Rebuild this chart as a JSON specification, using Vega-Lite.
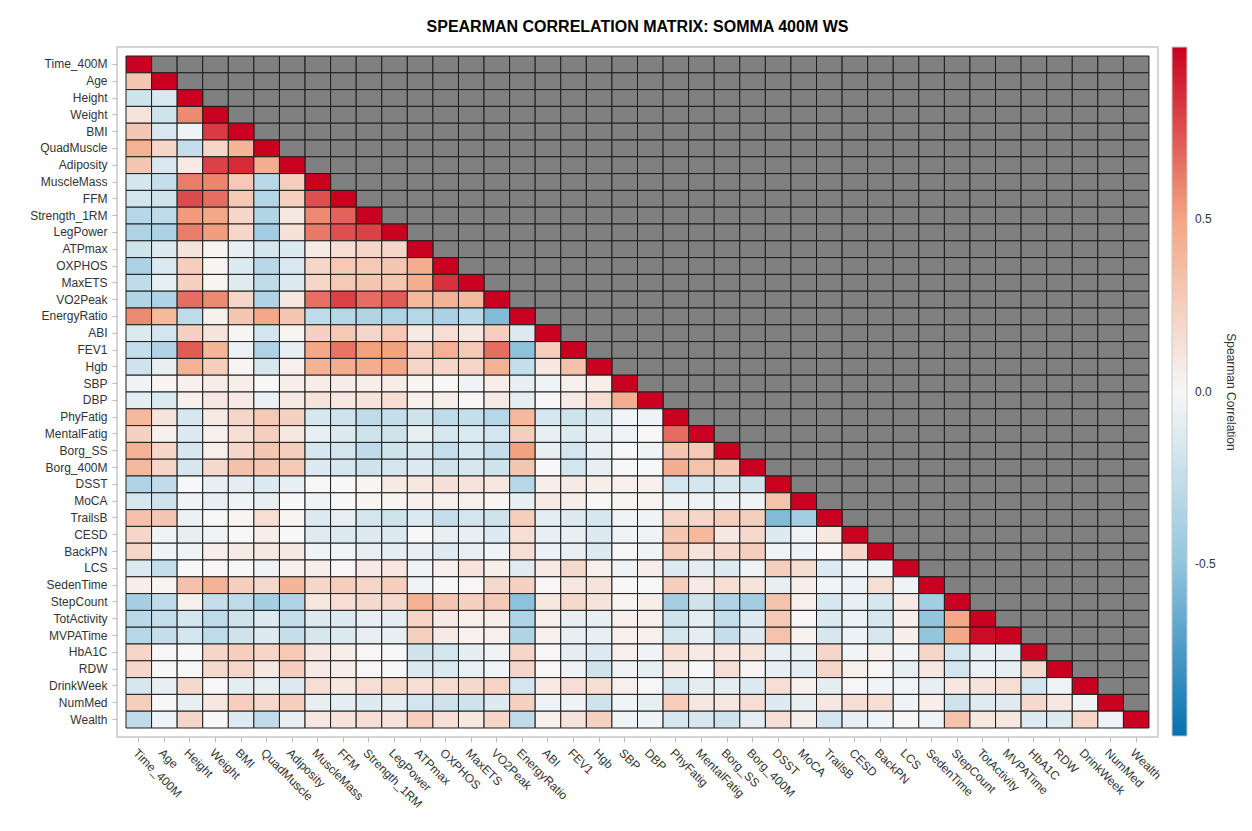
{
"$schema": "https://vega.github.io/schema/vega-lite/v6.json",
"width": 1041, "height": 690,
"autosize": {"type": "none"},
"padding": {"left": 117, "top": 47, "right": 94, "bottom": 94},
"background": "white",
"title": {"text": "SPEARMAN CORRELATION MATRIX: SOMMA 400M WS", "fontSize": 16, "fontWeight": "bold", "font": "Liberation Sans", "color": "#000000", "anchor": "middle", "offset": 12},
"config": {
"view": {"stroke": "#c8c8c8", "strokeWidth": 1.5},
"axis": {"labelFont": "Liberation Sans", "labelFontSize": 12, "labelColor": "#333333", "tickColor": "#bbbbbb", "tickSize": 5, "domain": false, "grid": false, "labelPadding": 5, "title": null},
"legend": {"labelFont": "Liberation Sans", "labelFontSize": 12, "labelColor": "#333333", "titleFont": "Liberation Sans", "titleFontSize": 12, "titleFontWeight": "normal", "titleColor": "#333333", "padding": 0}
},
"data": {"values": [
{"y":"Time_400M","x":"Time_400M","v":1},
{"y":"Age","x":"Time_400M","v":0.3},{"y":"Age","x":"Age","v":1},
{"y":"Height","x":"Time_400M","v":-0.2},{"y":"Height","x":"Age","v":-0.15},{"y":"Height","x":"Height","v":1},
{"y":"Weight","x":"Time_400M","v":0.12},{"y":"Weight","x":"Age","v":-0.2},{"y":"Weight","x":"Height","v":0.58},{"y":"Weight","x":"Weight","v":1},
{"y":"BMI","x":"Time_400M","v":0.3},{"y":"BMI","x":"Age","v":-0.15},{"y":"BMI","x":"Height","v":-0.05},{"y":"BMI","x":"Weight","v":0.82},{"y":"BMI","x":"BMI","v":1},
{"y":"QuadMuscle","x":"Time_400M","v":0.42},{"y":"QuadMuscle","x":"Age","v":0.2},{"y":"QuadMuscle","x":"Height","v":-0.25},{"y":"QuadMuscle","x":"Weight","v":0.2},{"y":"QuadMuscle","x":"BMI","v":0.4},{"y":"QuadMuscle","x":"QuadMuscle","v":1},
{"y":"Adiposity","x":"Time_400M","v":0.3},{"y":"Adiposity","x":"Age","v":-0.15},{"y":"Adiposity","x":"Height","v":0.08},{"y":"Adiposity","x":"Weight","v":0.8},{"y":"Adiposity","x":"BMI","v":0.87},{"y":"Adiposity","x":"QuadMuscle","v":0.45},{"y":"Adiposity","x":"Adiposity","v":1},
{"y":"MuscleMass","x":"Time_400M","v":-0.17},{"y":"MuscleMass","x":"Age","v":-0.25},{"y":"MuscleMass","x":"Height","v":0.62},{"y":"MuscleMass","x":"Weight","v":0.6},{"y":"MuscleMass","x":"BMI","v":0.28},{"y":"MuscleMass","x":"QuadMuscle","v":-0.3},{"y":"MuscleMass","x":"Adiposity","v":0.25},{"y":"MuscleMass","x":"MuscleMass","v":1},
{"y":"FFM","x":"Time_400M","v":-0.18},{"y":"FFM","x":"Age","v":-0.2},{"y":"FFM","x":"Height","v":0.77},{"y":"FFM","x":"Weight","v":0.67},{"y":"FFM","x":"BMI","v":0.28},{"y":"FFM","x":"QuadMuscle","v":-0.33},{"y":"FFM","x":"Adiposity","v":0.24},{"y":"FFM","x":"MuscleMass","v":0.76},{"y":"FFM","x":"FFM","v":1},
{"y":"Strength_1RM","x":"Time_400M","v":-0.32},{"y":"Strength_1RM","x":"Age","v":-0.27},{"y":"Strength_1RM","x":"Height","v":0.53},{"y":"Strength_1RM","x":"Weight","v":0.48},{"y":"Strength_1RM","x":"BMI","v":0.2},{"y":"Strength_1RM","x":"QuadMuscle","v":-0.34},{"y":"Strength_1RM","x":"Adiposity","v":0.1},{"y":"Strength_1RM","x":"MuscleMass","v":0.58},{"y":"Strength_1RM","x":"FFM","v":0.7},{"y":"Strength_1RM","x":"Strength_1RM","v":1},
{"y":"LegPower","x":"Time_400M","v":-0.35},{"y":"LegPower","x":"Age","v":-0.37},{"y":"LegPower","x":"Height","v":0.62},{"y":"LegPower","x":"Weight","v":0.52},{"y":"LegPower","x":"BMI","v":0.2},{"y":"LegPower","x":"QuadMuscle","v":-0.42},{"y":"LegPower","x":"Adiposity","v":0.13},{"y":"LegPower","x":"MuscleMass","v":0.63},{"y":"LegPower","x":"FFM","v":0.76},{"y":"LegPower","x":"Strength_1RM","v":0.8},{"y":"LegPower","x":"LegPower","v":1},
{"y":"ATPmax","x":"Time_400M","v":-0.2},{"y":"ATPmax","x":"Age","v":-0.13},{"y":"ATPmax","x":"Height","v":0.12},{"y":"ATPmax","x":"Weight","v":0.02},{"y":"ATPmax","x":"BMI","v":-0.08},{"y":"ATPmax","x":"QuadMuscle","v":-0.17},{"y":"ATPmax","x":"Adiposity","v":-0.13},{"y":"ATPmax","x":"MuscleMass","v":0.08},{"y":"ATPmax","x":"FFM","v":0.15},{"y":"ATPmax","x":"Strength_1RM","v":0.2},{"y":"ATPmax","x":"LegPower","v":0.2},{"y":"ATPmax","x":"ATPmax","v":1},
{"y":"OXPHOS","x":"Time_400M","v":-0.37},{"y":"OXPHOS","x":"Age","v":-0.14},{"y":"OXPHOS","x":"Height","v":0.25},{"y":"OXPHOS","x":"Weight","v":0.02},{"y":"OXPHOS","x":"BMI","v":-0.13},{"y":"OXPHOS","x":"QuadMuscle","v":-0.31},{"y":"OXPHOS","x":"Adiposity","v":-0.15},{"y":"OXPHOS","x":"MuscleMass","v":0.2},{"y":"OXPHOS","x":"FFM","v":0.28},{"y":"OXPHOS","x":"Strength_1RM","v":0.28},{"y":"OXPHOS","x":"LegPower","v":0.3},{"y":"OXPHOS","x":"ATPmax","v":0.45},{"y":"OXPHOS","x":"OXPHOS","v":1},
{"y":"MaxETS","x":"Time_400M","v":-0.27},{"y":"MaxETS","x":"Age","v":-0.08},{"y":"MaxETS","x":"Height","v":0.23},{"y":"MaxETS","x":"Weight","v":0.02},{"y":"MaxETS","x":"BMI","v":-0.12},{"y":"MaxETS","x":"QuadMuscle","v":-0.28},{"y":"MaxETS","x":"Adiposity","v":-0.13},{"y":"MaxETS","x":"MuscleMass","v":0.2},{"y":"MaxETS","x":"FFM","v":0.28},{"y":"MaxETS","x":"Strength_1RM","v":0.3},{"y":"MaxETS","x":"LegPower","v":0.3},{"y":"MaxETS","x":"ATPmax","v":0.45},{"y":"MaxETS","x":"OXPHOS","v":0.85},{"y":"MaxETS","x":"MaxETS","v":1},
{"y":"VO2Peak","x":"Time_400M","v":-0.34},{"y":"VO2Peak","x":"Age","v":-0.36},{"y":"VO2Peak","x":"Height","v":0.67},{"y":"VO2Peak","x":"Weight","v":0.58},{"y":"VO2Peak","x":"BMI","v":0.2},{"y":"VO2Peak","x":"QuadMuscle","v":-0.35},{"y":"VO2Peak","x":"Adiposity","v":0.1},{"y":"VO2Peak","x":"MuscleMass","v":0.66},{"y":"VO2Peak","x":"FFM","v":0.8},{"y":"VO2Peak","x":"Strength_1RM","v":0.67},{"y":"VO2Peak","x":"LegPower","v":0.72},{"y":"VO2Peak","x":"ATPmax","v":0.38},{"y":"VO2Peak","x":"OXPHOS","v":0.42},{"y":"VO2Peak","x":"MaxETS","v":0.38},{"y":"VO2Peak","x":"VO2Peak","v":1},
{"y":"EnergyRatio","x":"Time_400M","v":0.58},{"y":"EnergyRatio","x":"Age","v":0.38},{"y":"EnergyRatio","x":"Height","v":-0.28},{"y":"EnergyRatio","x":"Weight","v":0.05},{"y":"EnergyRatio","x":"BMI","v":0.3},{"y":"EnergyRatio","x":"QuadMuscle","v":0.48},{"y":"EnergyRatio","x":"Adiposity","v":0.3},{"y":"EnergyRatio","x":"MuscleMass","v":-0.27},{"y":"EnergyRatio","x":"FFM","v":-0.32},{"y":"EnergyRatio","x":"Strength_1RM","v":-0.34},{"y":"EnergyRatio","x":"LegPower","v":-0.36},{"y":"EnergyRatio","x":"ATPmax","v":-0.32},{"y":"EnergyRatio","x":"OXPHOS","v":-0.38},{"y":"EnergyRatio","x":"MaxETS","v":-0.3},{"y":"EnergyRatio","x":"VO2Peak","v":-0.56},{"y":"EnergyRatio","x":"EnergyRatio","v":1},
{"y":"ABI","x":"Time_400M","v":-0.14},{"y":"ABI","x":"Age","v":-0.18},{"y":"ABI","x":"Height","v":0.23},{"y":"ABI","x":"Weight","v":0.12},{"y":"ABI","x":"BMI","v":0.02},{"y":"ABI","x":"QuadMuscle","v":-0.18},{"y":"ABI","x":"Adiposity","v":0.02},{"y":"ABI","x":"MuscleMass","v":0.23},{"y":"ABI","x":"FFM","v":0.28},{"y":"ABI","x":"Strength_1RM","v":0.2},{"y":"ABI","x":"LegPower","v":0.28},{"y":"ABI","x":"ATPmax","v":0.08},{"y":"ABI","x":"OXPHOS","v":0.15},{"y":"ABI","x":"MaxETS","v":0.1},{"y":"ABI","x":"VO2Peak","v":0.25},{"y":"ABI","x":"EnergyRatio","v":-0.14},{"y":"ABI","x":"ABI","v":1},
{"y":"FEV1","x":"Time_400M","v":-0.25},{"y":"FEV1","x":"Age","v":-0.35},{"y":"FEV1","x":"Height","v":0.72},{"y":"FEV1","x":"Weight","v":0.4},{"y":"FEV1","x":"BMI","v":-0.06},{"y":"FEV1","x":"QuadMuscle","v":-0.36},{"y":"FEV1","x":"Adiposity","v":-0.08},{"y":"FEV1","x":"MuscleMass","v":0.48},{"y":"FEV1","x":"FFM","v":0.65},{"y":"FEV1","x":"Strength_1RM","v":0.51},{"y":"FEV1","x":"LegPower","v":0.51},{"y":"FEV1","x":"ATPmax","v":0.25},{"y":"FEV1","x":"OXPHOS","v":0.42},{"y":"FEV1","x":"MaxETS","v":0.28},{"y":"FEV1","x":"VO2Peak","v":0.67},{"y":"FEV1","x":"EnergyRatio","v":-0.52},{"y":"FEV1","x":"ABI","v":0.25},{"y":"FEV1","x":"FEV1","v":1},
{"y":"Hgb","x":"Time_400M","v":-0.2},{"y":"Hgb","x":"Age","v":-0.08},{"y":"Hgb","x":"Height","v":0.42},{"y":"Hgb","x":"Weight","v":0.25},{"y":"Hgb","x":"BMI","v":0.02},{"y":"Hgb","x":"QuadMuscle","v":-0.16},{"y":"Hgb","x":"Adiposity","v":0.05},{"y":"Hgb","x":"MuscleMass","v":0.42},{"y":"Hgb","x":"FFM","v":0.45},{"y":"Hgb","x":"Strength_1RM","v":0.45},{"y":"Hgb","x":"LegPower","v":0.48},{"y":"Hgb","x":"ATPmax","v":0.2},{"y":"Hgb","x":"OXPHOS","v":0.2},{"y":"Hgb","x":"MaxETS","v":0.2},{"y":"Hgb","x":"VO2Peak","v":0.42},{"y":"Hgb","x":"EnergyRatio","v":-0.25},{"y":"Hgb","x":"ABI","v":0.1},{"y":"Hgb","x":"FEV1","v":0.33},{"y":"Hgb","x":"Hgb","v":1},
{"y":"SBP","x":"Time_400M","v":-0.04},{"y":"SBP","x":"Age","v":0.02},{"y":"SBP","x":"Height","v":0.04},{"y":"SBP","x":"Weight","v":0.07},{"y":"SBP","x":"BMI","v":0.06},{"y":"SBP","x":"QuadMuscle","v":0.0},{"y":"SBP","x":"Adiposity","v":0.06},{"y":"SBP","x":"MuscleMass","v":0.07},{"y":"SBP","x":"FFM","v":0.07},{"y":"SBP","x":"Strength_1RM","v":0.06},{"y":"SBP","x":"LegPower","v":0.07},{"y":"SBP","x":"ATPmax","v":0.02},{"y":"SBP","x":"OXPHOS","v":0.0},{"y":"SBP","x":"MaxETS","v":-0.04},{"y":"SBP","x":"VO2Peak","v":0.06},{"y":"SBP","x":"EnergyRatio","v":-0.08},{"y":"SBP","x":"ABI","v":-0.05},{"y":"SBP","x":"FEV1","v":0.05},{"y":"SBP","x":"Hgb","v":0.06},{"y":"SBP","x":"SBP","v":1},
{"y":"DBP","x":"Time_400M","v":-0.1},{"y":"DBP","x":"Age","v":-0.14},{"y":"DBP","x":"Height","v":0.05},{"y":"DBP","x":"Weight","v":0.1},{"y":"DBP","x":"BMI","v":0.08},{"y":"DBP","x":"QuadMuscle","v":-0.06},{"y":"DBP","x":"Adiposity","v":0.08},{"y":"DBP","x":"MuscleMass","v":0.12},{"y":"DBP","x":"FFM","v":0.1},{"y":"DBP","x":"Strength_1RM","v":0.12},{"y":"DBP","x":"LegPower","v":0.15},{"y":"DBP","x":"ATPmax","v":0.05},{"y":"DBP","x":"OXPHOS","v":0.06},{"y":"DBP","x":"MaxETS","v":0.01},{"y":"DBP","x":"VO2Peak","v":0.08},{"y":"DBP","x":"EnergyRatio","v":-0.1},{"y":"DBP","x":"ABI","v":0.01},{"y":"DBP","x":"FEV1","v":0.08},{"y":"DBP","x":"Hgb","v":0.15},{"y":"DBP","x":"SBP","v":0.45},{"y":"DBP","x":"DBP","v":1},
{"y":"PhyFatig","x":"Time_400M","v":0.38},{"y":"PhyFatig","x":"Age","v":0.12},{"y":"PhyFatig","x":"Height","v":-0.16},{"y":"PhyFatig","x":"Weight","v":0.08},{"y":"PhyFatig","x":"BMI","v":0.2},{"y":"PhyFatig","x":"QuadMuscle","v":0.28},{"y":"PhyFatig","x":"Adiposity","v":0.23},{"y":"PhyFatig","x":"MuscleMass","v":-0.16},{"y":"PhyFatig","x":"FFM","v":-0.2},{"y":"PhyFatig","x":"Strength_1RM","v":-0.28},{"y":"PhyFatig","x":"LegPower","v":-0.25},{"y":"PhyFatig","x":"ATPmax","v":-0.2},{"y":"PhyFatig","x":"OXPHOS","v":-0.28},{"y":"PhyFatig","x":"MaxETS","v":-0.25},{"y":"PhyFatig","x":"VO2Peak","v":-0.32},{"y":"PhyFatig","x":"EnergyRatio","v":0.38},{"y":"PhyFatig","x":"ABI","v":-0.16},{"y":"PhyFatig","x":"FEV1","v":-0.2},{"y":"PhyFatig","x":"Hgb","v":-0.16},{"y":"PhyFatig","x":"SBP","v":-0.03},{"y":"PhyFatig","x":"DBP","v":-0.04},{"y":"PhyFatig","x":"PhyFatig","v":1},
{"y":"MentalFatig","x":"Time_400M","v":0.23},{"y":"MentalFatig","x":"Age","v":0.05},{"y":"MentalFatig","x":"Height","v":-0.13},{"y":"MentalFatig","x":"Weight","v":0.05},{"y":"MentalFatig","x":"BMI","v":0.15},{"y":"MentalFatig","x":"QuadMuscle","v":0.25},{"y":"MentalFatig","x":"Adiposity","v":0.1},{"y":"MentalFatig","x":"MuscleMass","v":-0.08},{"y":"MentalFatig","x":"FFM","v":-0.13},{"y":"MentalFatig","x":"Strength_1RM","v":-0.2},{"y":"MentalFatig","x":"LegPower","v":-0.2},{"y":"MentalFatig","x":"ATPmax","v":-0.08},{"y":"MentalFatig","x":"OXPHOS","v":-0.16},{"y":"MentalFatig","x":"MaxETS","v":-0.14},{"y":"MentalFatig","x":"VO2Peak","v":-0.18},{"y":"MentalFatig","x":"EnergyRatio","v":0.25},{"y":"MentalFatig","x":"ABI","v":-0.08},{"y":"MentalFatig","x":"FEV1","v":-0.13},{"y":"MentalFatig","x":"Hgb","v":-0.08},{"y":"MentalFatig","x":"SBP","v":-0.04},{"y":"MentalFatig","x":"DBP","v":0.0},{"y":"MentalFatig","x":"PhyFatig","v":0.68},{"y":"MentalFatig","x":"MentalFatig","v":1},
{"y":"Borg_SS","x":"Time_400M","v":0.42},{"y":"Borg_SS","x":"Age","v":0.2},{"y":"Borg_SS","x":"Height","v":-0.16},{"y":"Borg_SS","x":"Weight","v":0.05},{"y":"Borg_SS","x":"BMI","v":0.2},{"y":"Borg_SS","x":"QuadMuscle","v":0.3},{"y":"Borg_SS","x":"Adiposity","v":0.25},{"y":"Borg_SS","x":"MuscleMass","v":-0.16},{"y":"Borg_SS","x":"FFM","v":-0.18},{"y":"Borg_SS","x":"Strength_1RM","v":-0.27},{"y":"Borg_SS","x":"LegPower","v":-0.2},{"y":"Borg_SS","x":"ATPmax","v":-0.16},{"y":"Borg_SS","x":"OXPHOS","v":-0.25},{"y":"Borg_SS","x":"MaxETS","v":-0.16},{"y":"Borg_SS","x":"VO2Peak","v":-0.25},{"y":"Borg_SS","x":"EnergyRatio","v":0.51},{"y":"Borg_SS","x":"ABI","v":-0.08},{"y":"Borg_SS","x":"FEV1","v":-0.18},{"y":"Borg_SS","x":"Hgb","v":-0.08},{"y":"Borg_SS","x":"SBP","v":0.0},{"y":"Borg_SS","x":"DBP","v":-0.04},{"y":"Borg_SS","x":"PhyFatig","v":0.3},{"y":"Borg_SS","x":"MentalFatig","v":0.28},{"y":"Borg_SS","x":"Borg_SS","v":1},
{"y":"Borg_400M","x":"Time_400M","v":0.38},{"y":"Borg_400M","x":"Age","v":0.2},{"y":"Borg_400M","x":"Height","v":-0.16},{"y":"Borg_400M","x":"Weight","v":0.18},{"y":"Borg_400M","x":"BMI","v":0.33},{"y":"Borg_400M","x":"QuadMuscle","v":0.3},{"y":"Borg_400M","x":"Adiposity","v":0.28},{"y":"Borg_400M","x":"MuscleMass","v":-0.13},{"y":"Borg_400M","x":"FFM","v":-0.16},{"y":"Borg_400M","x":"Strength_1RM","v":-0.2},{"y":"Borg_400M","x":"LegPower","v":-0.18},{"y":"Borg_400M","x":"ATPmax","v":-0.13},{"y":"Borg_400M","x":"OXPHOS","v":-0.2},{"y":"Borg_400M","x":"MaxETS","v":-0.16},{"y":"Borg_400M","x":"VO2Peak","v":-0.2},{"y":"Borg_400M","x":"EnergyRatio","v":0.3},{"y":"Borg_400M","x":"ABI","v":0.0},{"y":"Borg_400M","x":"FEV1","v":-0.18},{"y":"Borg_400M","x":"Hgb","v":-0.08},{"y":"Borg_400M","x":"SBP","v":0.0},{"y":"Borg_400M","x":"DBP","v":0.0},{"y":"Borg_400M","x":"PhyFatig","v":0.45},{"y":"Borg_400M","x":"MentalFatig","v":0.32},{"y":"Borg_400M","x":"Borg_SS","v":0.3},{"y":"Borg_400M","x":"Borg_400M","v":1},
{"y":"DSST","x":"Time_400M","v":-0.35},{"y":"DSST","x":"Age","v":-0.27},{"y":"DSST","x":"Height","v":0.0},{"y":"DSST","x":"Weight","v":-0.08},{"y":"DSST","x":"BMI","v":-0.1},{"y":"DSST","x":"QuadMuscle","v":-0.13},{"y":"DSST","x":"Adiposity","v":-0.08},{"y":"DSST","x":"MuscleMass","v":0.01},{"y":"DSST","x":"FFM","v":0.0},{"y":"DSST","x":"Strength_1RM","v":0.02},{"y":"DSST","x":"LegPower","v":0.08},{"y":"DSST","x":"ATPmax","v":0.1},{"y":"DSST","x":"OXPHOS","v":0.14},{"y":"DSST","x":"MaxETS","v":0.12},{"y":"DSST","x":"VO2Peak","v":0.1},{"y":"DSST","x":"EnergyRatio","v":-0.32},{"y":"DSST","x":"ABI","v":0.06},{"y":"DSST","x":"FEV1","v":0.08},{"y":"DSST","x":"Hgb","v":0.06},{"y":"DSST","x":"SBP","v":0.05},{"y":"DSST","x":"DBP","v":0.05},{"y":"DSST","x":"PhyFatig","v":-0.18},{"y":"DSST","x":"MentalFatig","v":-0.18},{"y":"DSST","x":"Borg_SS","v":-0.16},{"y":"DSST","x":"Borg_400M","v":-0.2},{"y":"DSST","x":"DSST","v":1},
{"y":"MoCA","x":"Time_400M","v":-0.16},{"y":"MoCA","x":"Age","v":-0.2},{"y":"MoCA","x":"Height","v":-0.04},{"y":"MoCA","x":"Weight","v":-0.08},{"y":"MoCA","x":"BMI","v":-0.04},{"y":"MoCA","x":"QuadMuscle","v":-0.08},{"y":"MoCA","x":"Adiposity","v":0.0},{"y":"MoCA","x":"MuscleMass","v":-0.04},{"y":"MoCA","x":"FFM","v":0.0},{"y":"MoCA","x":"Strength_1RM","v":0.02},{"y":"MoCA","x":"LegPower","v":0.02},{"y":"MoCA","x":"ATPmax","v":0.04},{"y":"MoCA","x":"OXPHOS","v":0.05},{"y":"MoCA","x":"MaxETS","v":0.05},{"y":"MoCA","x":"VO2Peak","v":0.02},{"y":"MoCA","x":"EnergyRatio","v":-0.08},{"y":"MoCA","x":"ABI","v":0.08},{"y":"MoCA","x":"FEV1","v":0.06},{"y":"MoCA","x":"Hgb","v":0.0},{"y":"MoCA","x":"SBP","v":0.02},{"y":"MoCA","x":"DBP","v":0.02},{"y":"MoCA","x":"PhyFatig","v":-0.04},{"y":"MoCA","x":"MentalFatig","v":-0.04},{"y":"MoCA","x":"Borg_SS","v":-0.06},{"y":"MoCA","x":"Borg_400M","v":-0.04},{"y":"MoCA","x":"DSST","v":0.32},{"y":"MoCA","x":"MoCA","v":1},
{"y":"TrailsB","x":"Time_400M","v":0.33},{"y":"TrailsB","x":"Age","v":0.3},{"y":"TrailsB","x":"Height","v":-0.06},{"y":"TrailsB","x":"Weight","v":0.0},{"y":"TrailsB","x":"BMI","v":0.02},{"y":"TrailsB","x":"QuadMuscle","v":0.15},{"y":"TrailsB","x":"Adiposity","v":0.02},{"y":"TrailsB","x":"MuscleMass","v":-0.13},{"y":"TrailsB","x":"FFM","v":-0.08},{"y":"TrailsB","x":"Strength_1RM","v":-0.18},{"y":"TrailsB","x":"LegPower","v":-0.2},{"y":"TrailsB","x":"ATPmax","v":-0.13},{"y":"TrailsB","x":"OXPHOS","v":-0.25},{"y":"TrailsB","x":"MaxETS","v":-0.18},{"y":"TrailsB","x":"VO2Peak","v":-0.2},{"y":"TrailsB","x":"EnergyRatio","v":0.25},{"y":"TrailsB","x":"ABI","v":-0.1},{"y":"TrailsB","x":"FEV1","v":-0.13},{"y":"TrailsB","x":"Hgb","v":-0.16},{"y":"TrailsB","x":"SBP","v":-0.04},{"y":"TrailsB","x":"DBP","v":-0.04},{"y":"TrailsB","x":"PhyFatig","v":0.2},{"y":"TrailsB","x":"MentalFatig","v":0.2},{"y":"TrailsB","x":"Borg_SS","v":0.25},{"y":"TrailsB","x":"Borg_400M","v":0.25},{"y":"TrailsB","x":"DSST","v":-0.56},{"y":"TrailsB","x":"MoCA","v":-0.42},{"y":"TrailsB","x":"TrailsB","v":1},
{"y":"CESD","x":"Time_400M","v":0.2},{"y":"CESD","x":"Age","v":-0.04},{"y":"CESD","x":"Height","v":-0.08},{"y":"CESD","x":"Weight","v":-0.04},{"y":"CESD","x":"BMI","v":0.0},{"y":"CESD","x":"QuadMuscle","v":0.06},{"y":"CESD","x":"Adiposity","v":0.0},{"y":"CESD","x":"MuscleMass","v":-0.12},{"y":"CESD","x":"FFM","v":-0.14},{"y":"CESD","x":"Strength_1RM","v":-0.13},{"y":"CESD","x":"LegPower","v":-0.14},{"y":"CESD","x":"ATPmax","v":0.0},{"y":"CESD","x":"OXPHOS","v":-0.08},{"y":"CESD","x":"MaxETS","v":-0.08},{"y":"CESD","x":"VO2Peak","v":-0.13},{"y":"CESD","x":"EnergyRatio","v":0.15},{"y":"CESD","x":"ABI","v":-0.08},{"y":"CESD","x":"FEV1","v":-0.08},{"y":"CESD","x":"Hgb","v":-0.13},{"y":"CESD","x":"SBP","v":-0.04},{"y":"CESD","x":"DBP","v":-0.04},{"y":"CESD","x":"PhyFatig","v":0.3},{"y":"CESD","x":"MentalFatig","v":0.38},{"y":"CESD","x":"Borg_SS","v":0.1},{"y":"CESD","x":"Borg_400M","v":0.18},{"y":"CESD","x":"DSST","v":-0.13},{"y":"CESD","x":"MoCA","v":-0.04},{"y":"CESD","x":"TrailsB","v":0.1},{"y":"CESD","x":"CESD","v":1},
{"y":"BackPN","x":"Time_400M","v":0.2},{"y":"BackPN","x":"Age","v":-0.04},{"y":"BackPN","x":"Height","v":-0.04},{"y":"BackPN","x":"Weight","v":0.06},{"y":"BackPN","x":"BMI","v":0.08},{"y":"BackPN","x":"QuadMuscle","v":0.1},{"y":"BackPN","x":"Adiposity","v":0.1},{"y":"BackPN","x":"MuscleMass","v":-0.04},{"y":"BackPN","x":"FFM","v":-0.03},{"y":"BackPN","x":"Strength_1RM","v":-0.08},{"y":"BackPN","x":"LegPower","v":-0.1},{"y":"BackPN","x":"ATPmax","v":-0.08},{"y":"BackPN","x":"OXPHOS","v":-0.13},{"y":"BackPN","x":"MaxETS","v":-0.08},{"y":"BackPN","x":"VO2Peak","v":-0.04},{"y":"BackPN","x":"EnergyRatio","v":0.15},{"y":"BackPN","x":"ABI","v":-0.06},{"y":"BackPN","x":"FEV1","v":-0.08},{"y":"BackPN","x":"Hgb","v":-0.13},{"y":"BackPN","x":"SBP","v":0.01},{"y":"BackPN","x":"DBP","v":-0.04},{"y":"BackPN","x":"PhyFatig","v":0.25},{"y":"BackPN","x":"MentalFatig","v":0.12},{"y":"BackPN","x":"Borg_SS","v":0.18},{"y":"BackPN","x":"Borg_400M","v":0.25},{"y":"BackPN","x":"DSST","v":-0.04},{"y":"BackPN","x":"MoCA","v":-0.06},{"y":"BackPN","x":"TrailsB","v":0.01},{"y":"BackPN","x":"CESD","v":0.2},{"y":"BackPN","x":"BackPN","v":1},
{"y":"LCS","x":"Time_400M","v":-0.14},{"y":"LCS","x":"Age","v":-0.25},{"y":"LCS","x":"Height","v":0.0},{"y":"LCS","x":"Weight","v":0.01},{"y":"LCS","x":"BMI","v":0.0},{"y":"LCS","x":"QuadMuscle","v":-0.04},{"y":"LCS","x":"Adiposity","v":0.05},{"y":"LCS","x":"MuscleMass","v":0.06},{"y":"LCS","x":"FFM","v":0.01},{"y":"LCS","x":"Strength_1RM","v":0.08},{"y":"LCS","x":"LegPower","v":0.1},{"y":"LCS","x":"ATPmax","v":-0.04},{"y":"LCS","x":"OXPHOS","v":0.05},{"y":"LCS","x":"MaxETS","v":0.12},{"y":"LCS","x":"VO2Peak","v":0.06},{"y":"LCS","x":"EnergyRatio","v":-0.12},{"y":"LCS","x":"ABI","v":0.08},{"y":"LCS","x":"FEV1","v":0.18},{"y":"LCS","x":"Hgb","v":0.05},{"y":"LCS","x":"SBP","v":-0.04},{"y":"LCS","x":"DBP","v":0.06},{"y":"LCS","x":"PhyFatig","v":-0.13},{"y":"LCS","x":"MentalFatig","v":-0.1},{"y":"LCS","x":"Borg_SS","v":-0.13},{"y":"LCS","x":"Borg_400M","v":-0.04},{"y":"LCS","x":"DSST","v":0.25},{"y":"LCS","x":"MoCA","v":0.16},{"y":"LCS","x":"TrailsB","v":-0.13},{"y":"LCS","x":"CESD","v":-0.04},{"y":"LCS","x":"BackPN","v":-0.05},{"y":"LCS","x":"LCS","v":1},
{"y":"SedenTime","x":"Time_400M","v":0.06},{"y":"SedenTime","x":"Age","v":0.02},{"y":"SedenTime","x":"Height","v":0.33},{"y":"SedenTime","x":"Weight","v":0.42},{"y":"SedenTime","x":"BMI","v":0.25},{"y":"SedenTime","x":"QuadMuscle","v":0.18},{"y":"SedenTime","x":"Adiposity","v":0.4},{"y":"SedenTime","x":"MuscleMass","v":0.2},{"y":"SedenTime","x":"FFM","v":0.25},{"y":"SedenTime","x":"Strength_1RM","v":0.2},{"y":"SedenTime","x":"LegPower","v":0.25},{"y":"SedenTime","x":"ATPmax","v":-0.04},{"y":"SedenTime","x":"OXPHOS","v":0.0},{"y":"SedenTime","x":"MaxETS","v":0.01},{"y":"SedenTime","x":"VO2Peak","v":0.18},{"y":"SedenTime","x":"EnergyRatio","v":0.23},{"y":"SedenTime","x":"ABI","v":0.01},{"y":"SedenTime","x":"FEV1","v":0.1},{"y":"SedenTime","x":"Hgb","v":0.12},{"y":"SedenTime","x":"SBP","v":0.0},{"y":"SedenTime","x":"DBP","v":0.0},{"y":"SedenTime","x":"PhyFatig","v":0.25},{"y":"SedenTime","x":"MentalFatig","v":0.08},{"y":"SedenTime","x":"Borg_SS","v":0.15},{"y":"SedenTime","x":"Borg_400M","v":0.12},{"y":"SedenTime","x":"DSST","v":-0.08},{"y":"SedenTime","x":"MoCA","v":0.06},{"y":"SedenTime","x":"TrailsB","v":-0.03},{"y":"SedenTime","x":"CESD","v":-0.06},{"y":"SedenTime","x":"BackPN","v":0.15},{"y":"SedenTime","x":"LCS","v":-0.04},{"y":"SedenTime","x":"SedenTime","v":1},
{"y":"StepCount","x":"Time_400M","v":-0.4},{"y":"StepCount","x":"Age","v":-0.27},{"y":"StepCount","x":"Height","v":0.05},{"y":"StepCount","x":"Weight","v":-0.25},{"y":"StepCount","x":"BMI","v":-0.28},{"y":"StepCount","x":"QuadMuscle","v":-0.4},{"y":"StepCount","x":"Adiposity","v":-0.35},{"y":"StepCount","x":"MuscleMass","v":0.1},{"y":"StepCount","x":"FFM","v":0.15},{"y":"StepCount","x":"Strength_1RM","v":0.18},{"y":"StepCount","x":"LegPower","v":0.18},{"y":"StepCount","x":"ATPmax","v":0.42},{"y":"StepCount","x":"OXPHOS","v":0.3},{"y":"StepCount","x":"MaxETS","v":0.23},{"y":"StepCount","x":"VO2Peak","v":0.28},{"y":"StepCount","x":"EnergyRatio","v":-0.52},{"y":"StepCount","x":"ABI","v":0.1},{"y":"StepCount","x":"FEV1","v":0.18},{"y":"StepCount","x":"Hgb","v":0.12},{"y":"StepCount","x":"SBP","v":0.02},{"y":"StepCount","x":"DBP","v":0.06},{"y":"StepCount","x":"PhyFatig","v":-0.4},{"y":"StepCount","x":"MentalFatig","v":-0.2},{"y":"StepCount","x":"Borg_SS","v":-0.35},{"y":"StepCount","x":"Borg_400M","v":-0.42},{"y":"StepCount","x":"DSST","v":0.32},{"y":"StepCount","x":"MoCA","v":0.05},{"y":"StepCount","x":"TrailsB","v":-0.16},{"y":"StepCount","x":"CESD","v":-0.08},{"y":"StepCount","x":"BackPN","v":-0.16},{"y":"StepCount","x":"LCS","v":0.08},{"y":"StepCount","x":"SedenTime","v":-0.42},{"y":"StepCount","x":"StepCount","v":1},
{"y":"TotActivity","x":"Time_400M","v":-0.3},{"y":"TotActivity","x":"Age","v":-0.25},{"y":"TotActivity","x":"Height","v":-0.18},{"y":"TotActivity","x":"Weight","v":-0.28},{"y":"TotActivity","x":"BMI","v":-0.2},{"y":"TotActivity","x":"QuadMuscle","v":-0.13},{"y":"TotActivity","x":"Adiposity","v":-0.25},{"y":"TotActivity","x":"MuscleMass","v":-0.13},{"y":"TotActivity","x":"FFM","v":-0.13},{"y":"TotActivity","x":"Strength_1RM","v":-0.08},{"y":"TotActivity","x":"LegPower","v":-0.1},{"y":"TotActivity","x":"ATPmax","v":0.22},{"y":"TotActivity","x":"OXPHOS","v":0.08},{"y":"TotActivity","x":"MaxETS","v":0.05},{"y":"TotActivity","x":"VO2Peak","v":0.06},{"y":"TotActivity","x":"EnergyRatio","v":-0.35},{"y":"TotActivity","x":"ABI","v":0.05},{"y":"TotActivity","x":"FEV1","v":-0.08},{"y":"TotActivity","x":"Hgb","v":-0.08},{"y":"TotActivity","x":"SBP","v":0.05},{"y":"TotActivity","x":"DBP","v":0.05},{"y":"TotActivity","x":"PhyFatig","v":-0.2},{"y":"TotActivity","x":"MentalFatig","v":-0.1},{"y":"TotActivity","x":"Borg_SS","v":-0.25},{"y":"TotActivity","x":"Borg_400M","v":-0.13},{"y":"TotActivity","x":"DSST","v":0.28},{"y":"TotActivity","x":"MoCA","v":0.01},{"y":"TotActivity","x":"TrailsB","v":-0.13},{"y":"TotActivity","x":"CESD","v":-0.06},{"y":"TotActivity","x":"BackPN","v":-0.16},{"y":"TotActivity","x":"LCS","v":0.06},{"y":"TotActivity","x":"SedenTime","v":-0.5},{"y":"TotActivity","x":"StepCount","v":0.48},{"y":"TotActivity","x":"TotActivity","v":1},
{"y":"MVPATime","x":"Time_400M","v":-0.32},{"y":"MVPATime","x":"Age","v":-0.25},{"y":"MVPATime","x":"Height","v":-0.18},{"y":"MVPATime","x":"Weight","v":-0.28},{"y":"MVPATime","x":"BMI","v":-0.2},{"y":"MVPATime","x":"QuadMuscle","v":-0.13},{"y":"MVPATime","x":"Adiposity","v":-0.25},{"y":"MVPATime","x":"MuscleMass","v":-0.16},{"y":"MVPATime","x":"FFM","v":-0.14},{"y":"MVPATime","x":"Strength_1RM","v":-0.08},{"y":"MVPATime","x":"LegPower","v":-0.08},{"y":"MVPATime","x":"ATPmax","v":0.24},{"y":"MVPATime","x":"OXPHOS","v":0.08},{"y":"MVPATime","x":"MaxETS","v":0.03},{"y":"MVPATime","x":"VO2Peak","v":0.05},{"y":"MVPATime","x":"EnergyRatio","v":-0.35},{"y":"MVPATime","x":"ABI","v":0.05},{"y":"MVPATime","x":"FEV1","v":-0.08},{"y":"MVPATime","x":"Hgb","v":-0.08},{"y":"MVPATime","x":"SBP","v":0.05},{"y":"MVPATime","x":"DBP","v":0.05},{"y":"MVPATime","x":"PhyFatig","v":-0.18},{"y":"MVPATime","x":"MentalFatig","v":-0.1},{"y":"MVPATime","x":"Borg_SS","v":-0.25},{"y":"MVPATime","x":"Borg_400M","v":-0.13},{"y":"MVPATime","x":"DSST","v":0.32},{"y":"MVPATime","x":"MoCA","v":0.03},{"y":"MVPATime","x":"TrailsB","v":-0.16},{"y":"MVPATime","x":"CESD","v":-0.06},{"y":"MVPATime","x":"BackPN","v":-0.16},{"y":"MVPATime","x":"LCS","v":0.06},{"y":"MVPATime","x":"SedenTime","v":-0.5},{"y":"MVPATime","x":"StepCount","v":0.48},{"y":"MVPATime","x":"TotActivity","v":0.96},{"y":"MVPATime","x":"MVPATime","v":1},
{"y":"HbA1C","x":"Time_400M","v":0.2},{"y":"HbA1C","x":"Age","v":0.01},{"y":"HbA1C","x":"Height","v":0.0},{"y":"HbA1C","x":"Weight","v":0.2},{"y":"HbA1C","x":"BMI","v":0.25},{"y":"HbA1C","x":"QuadMuscle","v":0.2},{"y":"HbA1C","x":"Adiposity","v":0.28},{"y":"HbA1C","x":"MuscleMass","v":0.1},{"y":"HbA1C","x":"FFM","v":0.06},{"y":"HbA1C","x":"Strength_1RM","v":0.01},{"y":"HbA1C","x":"LegPower","v":0.0},{"y":"HbA1C","x":"ATPmax","v":-0.19},{"y":"HbA1C","x":"OXPHOS","v":-0.18},{"y":"HbA1C","x":"MaxETS","v":-0.09},{"y":"HbA1C","x":"VO2Peak","v":-0.04},{"y":"HbA1C","x":"EnergyRatio","v":0.2},{"y":"HbA1C","x":"ABI","v":0.01},{"y":"HbA1C","x":"FEV1","v":-0.1},{"y":"HbA1C","x":"Hgb","v":-0.13},{"y":"HbA1C","x":"SBP","v":0.05},{"y":"HbA1C","x":"DBP","v":-0.04},{"y":"HbA1C","x":"PhyFatig","v":0.15},{"y":"HbA1C","x":"MentalFatig","v":0.08},{"y":"HbA1C","x":"Borg_SS","v":0.1},{"y":"HbA1C","x":"Borg_400M","v":0.12},{"y":"HbA1C","x":"DSST","v":-0.08},{"y":"HbA1C","x":"MoCA","v":-0.08},{"y":"HbA1C","x":"TrailsB","v":0.2},{"y":"HbA1C","x":"CESD","v":-0.03},{"y":"HbA1C","x":"BackPN","v":0.05},{"y":"HbA1C","x":"LCS","v":-0.03},{"y":"HbA1C","x":"SedenTime","v":0.2},{"y":"HbA1C","x":"StepCount","v":-0.18},{"y":"HbA1C","x":"TotActivity","v":-0.1},{"y":"HbA1C","x":"MVPATime","v":-0.1},{"y":"HbA1C","x":"HbA1C","v":1},
{"y":"RDW","x":"Time_400M","v":0.2},{"y":"RDW","x":"Age","v":0.0},{"y":"RDW","x":"Height","v":0.01},{"y":"RDW","x":"Weight","v":0.18},{"y":"RDW","x":"BMI","v":0.2},{"y":"RDW","x":"QuadMuscle","v":0.1},{"y":"RDW","x":"Adiposity","v":0.25},{"y":"RDW","x":"MuscleMass","v":0.08},{"y":"RDW","x":"FFM","v":0.06},{"y":"RDW","x":"Strength_1RM","v":0.01},{"y":"RDW","x":"LegPower","v":0.0},{"y":"RDW","x":"ATPmax","v":-0.13},{"y":"RDW","x":"OXPHOS","v":-0.14},{"y":"RDW","x":"MaxETS","v":-0.07},{"y":"RDW","x":"VO2Peak","v":-0.03},{"y":"RDW","x":"EnergyRatio","v":0.2},{"y":"RDW","x":"ABI","v":0.01},{"y":"RDW","x":"FEV1","v":-0.04},{"y":"RDW","x":"Hgb","v":-0.2},{"y":"RDW","x":"SBP","v":-0.04},{"y":"RDW","x":"DBP","v":-0.08},{"y":"RDW","x":"PhyFatig","v":0.08},{"y":"RDW","x":"MentalFatig","v":0.0},{"y":"RDW","x":"Borg_SS","v":0.15},{"y":"RDW","x":"Borg_400M","v":0.02},{"y":"RDW","x":"DSST","v":-0.08},{"y":"RDW","x":"MoCA","v":-0.1},{"y":"RDW","x":"TrailsB","v":0.2},{"y":"RDW","x":"CESD","v":0.05},{"y":"RDW","x":"BackPN","v":0.01},{"y":"RDW","x":"LCS","v":-0.08},{"y":"RDW","x":"SedenTime","v":0.1},{"y":"RDW","x":"StepCount","v":-0.18},{"y":"RDW","x":"TotActivity","v":-0.06},{"y":"RDW","x":"MVPATime","v":-0.08},{"y":"RDW","x":"HbA1C","v":0.18},{"y":"RDW","x":"RDW","v":1},
{"y":"DrinkWeek","x":"Time_400M","v":-0.16},{"y":"DrinkWeek","x":"Age","v":-0.08},{"y":"DrinkWeek","x":"Height","v":0.18},{"y":"DrinkWeek","x":"Weight","v":0.01},{"y":"DrinkWeek","x":"BMI","v":-0.1},{"y":"DrinkWeek","x":"QuadMuscle","v":-0.08},{"y":"DrinkWeek","x":"Adiposity","v":-0.13},{"y":"DrinkWeek","x":"MuscleMass","v":0.15},{"y":"DrinkWeek","x":"FFM","v":0.1},{"y":"DrinkWeek","x":"Strength_1RM","v":0.15},{"y":"DrinkWeek","x":"LegPower","v":0.18},{"y":"DrinkWeek","x":"ATPmax","v":0.15},{"y":"DrinkWeek","x":"OXPHOS","v":0.16},{"y":"DrinkWeek","x":"MaxETS","v":0.18},{"y":"DrinkWeek","x":"VO2Peak","v":0.22},{"y":"DrinkWeek","x":"EnergyRatio","v":-0.18},{"y":"DrinkWeek","x":"ABI","v":0.08},{"y":"DrinkWeek","x":"FEV1","v":0.15},{"y":"DrinkWeek","x":"Hgb","v":0.15},{"y":"DrinkWeek","x":"SBP","v":0.05},{"y":"DrinkWeek","x":"DBP","v":0.01},{"y":"DrinkWeek","x":"PhyFatig","v":-0.16},{"y":"DrinkWeek","x":"MentalFatig","v":-0.1},{"y":"DrinkWeek","x":"Borg_SS","v":-0.1},{"y":"DrinkWeek","x":"Borg_400M","v":-0.13},{"y":"DrinkWeek","x":"DSST","v":0.15},{"y":"DrinkWeek","x":"MoCA","v":0.05},{"y":"DrinkWeek","x":"TrailsB","v":-0.1},{"y":"DrinkWeek","x":"CESD","v":0.01},{"y":"DrinkWeek","x":"BackPN","v":-0.03},{"y":"DrinkWeek","x":"LCS","v":-0.03},{"y":"DrinkWeek","x":"SedenTime","v":-0.08},{"y":"DrinkWeek","x":"StepCount","v":0.1},{"y":"DrinkWeek","x":"TotActivity","v":0.12},{"y":"DrinkWeek","x":"MVPATime","v":0.15},{"y":"DrinkWeek","x":"HbA1C","v":-0.18},{"y":"DrinkWeek","x":"RDW","v":-0.04},{"y":"DrinkWeek","x":"DrinkWeek","v":1},
{"y":"NumMed","x":"Time_400M","v":0.25},{"y":"NumMed","x":"Age","v":0.0},{"y":"NumMed","x":"Height","v":-0.08},{"y":"NumMed","x":"Weight","v":0.1},{"y":"NumMed","x":"BMI","v":0.25},{"y":"NumMed","x":"QuadMuscle","v":0.18},{"y":"NumMed","x":"Adiposity","v":0.25},{"y":"NumMed","x":"MuscleMass","v":-0.08},{"y":"NumMed","x":"FFM","v":-0.1},{"y":"NumMed","x":"Strength_1RM","v":-0.13},{"y":"NumMed","x":"LegPower","v":-0.1},{"y":"NumMed","x":"ATPmax","v":-0.18},{"y":"NumMed","x":"OXPHOS","v":-0.2},{"y":"NumMed","x":"MaxETS","v":-0.2},{"y":"NumMed","x":"VO2Peak","v":-0.13},{"y":"NumMed","x":"EnergyRatio","v":0.23},{"y":"NumMed","x":"ABI","v":-0.04},{"y":"NumMed","x":"FEV1","v":-0.04},{"y":"NumMed","x":"Hgb","v":-0.2},{"y":"NumMed","x":"SBP","v":-0.03},{"y":"NumMed","x":"DBP","v":-0.08},{"y":"NumMed","x":"PhyFatig","v":0.25},{"y":"NumMed","x":"MentalFatig","v":0.1},{"y":"NumMed","x":"Borg_SS","v":0.1},{"y":"NumMed","x":"Borg_400M","v":0.15},{"y":"NumMed","x":"DSST","v":-0.13},{"y":"NumMed","x":"MoCA","v":-0.08},{"y":"NumMed","x":"TrailsB","v":0.1},{"y":"NumMed","x":"CESD","v":0.15},{"y":"NumMed","x":"BackPN","v":0.15},{"y":"NumMed","x":"LCS","v":-0.04},{"y":"NumMed","x":"SedenTime","v":0.06},{"y":"NumMed","x":"StepCount","v":-0.2},{"y":"NumMed","x":"TotActivity","v":-0.12},{"y":"NumMed","x":"MVPATime","v":-0.12},{"y":"NumMed","x":"HbA1C","v":0.18},{"y":"NumMed","x":"RDW","v":0.1},{"y":"NumMed","x":"DrinkWeek","v":-0.04},{"y":"NumMed","x":"NumMed","v":1},
{"y":"Wealth","x":"Time_400M","v":-0.27},{"y":"Wealth","x":"Age","v":-0.04},{"y":"Wealth","x":"Height","v":0.2},{"y":"Wealth","x":"Weight","v":0.0},{"y":"Wealth","x":"BMI","v":-0.13},{"y":"Wealth","x":"QuadMuscle","v":-0.27},{"y":"Wealth","x":"Adiposity","v":-0.08},{"y":"Wealth","x":"MuscleMass","v":0.1},{"y":"Wealth","x":"FFM","v":0.12},{"y":"Wealth","x":"Strength_1RM","v":0.15},{"y":"Wealth","x":"LegPower","v":0.12},{"y":"Wealth","x":"ATPmax","v":0.25},{"y":"Wealth","x":"OXPHOS","v":0.14},{"y":"Wealth","x":"MaxETS","v":0.1},{"y":"Wealth","x":"VO2Peak","v":0.2},{"y":"Wealth","x":"EnergyRatio","v":-0.27},{"y":"Wealth","x":"ABI","v":0.05},{"y":"Wealth","x":"FEV1","v":0.12},{"y":"Wealth","x":"Hgb","v":0.23},{"y":"Wealth","x":"SBP","v":-0.03},{"y":"Wealth","x":"DBP","v":-0.03},{"y":"Wealth","x":"PhyFatig","v":-0.16},{"y":"Wealth","x":"MentalFatig","v":-0.16},{"y":"Wealth","x":"Borg_SS","v":-0.2},{"y":"Wealth","x":"Borg_400M","v":-0.1},{"y":"Wealth","x":"DSST","v":0.15},{"y":"Wealth","x":"MoCA","v":0.06},{"y":"Wealth","x":"TrailsB","v":-0.18},{"y":"Wealth","x":"CESD","v":-0.08},{"y":"Wealth","x":"BackPN","v":-0.04},{"y":"Wealth","x":"LCS","v":0.01},{"y":"Wealth","x":"SedenTime","v":-0.04},{"y":"Wealth","x":"StepCount","v":0.32},{"y":"Wealth","x":"TotActivity","v":0.1},{"y":"Wealth","x":"MVPATime","v":0.1},{"y":"Wealth","x":"HbA1C","v":-0.13},{"y":"Wealth","x":"RDW","v":-0.13},{"y":"Wealth","x":"DrinkWeek","v":0.2},{"y":"Wealth","x":"NumMed","v":-0.04},{"y":"Wealth","x":"Wealth","v":1}
]},
"layer": [
{
"transform": [{"filter": "datum.x != datum.y"}],
"mark": {"type": "rect", "fill": "#808080", "stroke": "#1e1e1e", "strokeWidth": 1},
"encoding": {
"x": {"field": "y", "type": "nominal", "scale": {"domain": ["Time_400M","Age","Height","Weight","BMI","QuadMuscle","Adiposity","MuscleMass","FFM","Strength_1RM","LegPower","ATPmax","OXPHOS","MaxETS","VO2Peak","EnergyRatio","ABI","FEV1","Hgb","SBP","DBP","PhyFatig","MentalFatig","Borg_SS","Borg_400M","DSST","MoCA","TrailsB","CESD","BackPN","LCS","SedenTime","StepCount","TotActivity","MVPATime","HbA1C","RDW","DrinkWeek","NumMed","Wealth"], "paddingInner": 0, "paddingOuter": 0.352}, "axis": {"labelAngle": 45, "labelAlign": "left", "labelBaseline": "top", "labelPadding": 5, "title": null}},
"y": {"field": "x", "type": "nominal", "scale": {"domain": ["Time_400M","Age","Height","Weight","BMI","QuadMuscle","Adiposity","MuscleMass","FFM","Strength_1RM","LegPower","ATPmax","OXPHOS","MaxETS","VO2Peak","EnergyRatio","ABI","FEV1","Hgb","SBP","DBP","PhyFatig","MentalFatig","Borg_SS","Borg_400M","DSST","MoCA","TrailsB","CESD","BackPN","LCS","SedenTime","StepCount","TotActivity","MVPATime","HbA1C","RDW","DrinkWeek","NumMed","Wealth"], "paddingInner": 0, "paddingOuter": 0.536}, "axis": {"labelPadding": 5, "title": null}}
}
},
{
"mark": {"type": "rect", "stroke": "#1e1e1e", "strokeWidth": 1},
"encoding": {
"x": {"field": "x", "type": "nominal", "scale": {"domain": ["Time_400M","Age","Height","Weight","BMI","QuadMuscle","Adiposity","MuscleMass","FFM","Strength_1RM","LegPower","ATPmax","OXPHOS","MaxETS","VO2Peak","EnergyRatio","ABI","FEV1","Hgb","SBP","DBP","PhyFatig","MentalFatig","Borg_SS","Borg_400M","DSST","MoCA","TrailsB","CESD","BackPN","LCS","SedenTime","StepCount","TotActivity","MVPATime","HbA1C","RDW","DrinkWeek","NumMed","Wealth"], "paddingInner": 0, "paddingOuter": 0.352}},
"y": {"field": "y", "type": "nominal", "scale": {"domain": ["Time_400M","Age","Height","Weight","BMI","QuadMuscle","Adiposity","MuscleMass","FFM","Strength_1RM","LegPower","ATPmax","OXPHOS","MaxETS","VO2Peak","EnergyRatio","ABI","FEV1","Hgb","SBP","DBP","PhyFatig","MentalFatig","Borg_SS","Borg_400M","DSST","MoCA","TrailsB","CESD","BackPN","LCS","SedenTime","StepCount","TotActivity","MVPATime","HbA1C","RDW","DrinkWeek","NumMed","Wealth"], "paddingInner": 0, "paddingOuter": 0.536}},
"color": {"field": "v", "type": "quantitative", "scale": {"domain": [-1, -0.5, 0, 0.5, 1], "range": ["#0571b0", "#92c5de", "#f7f7f7", "#f4a582", "#ca0020"], "interpolate": "rgb"}, "legend": {"title": "Spearman Correlation", "values": [-0.5, 0, 0.5], "format": ".1f", "labelExpr": "replace(datum.label, '\u2212', '-')", "direction": "vertical", "gradientLength": 689, "gradientThickness": 15, "gradientStrokeColor": "#c8c8c8", "gradientStrokeWidth": 1, "offset": 14, "labelOffset": 8, "titleOrient": "right", "titleAngle": 270, "titleAnchor": "middle", "titlePadding": 8}}
}
}
]
}
